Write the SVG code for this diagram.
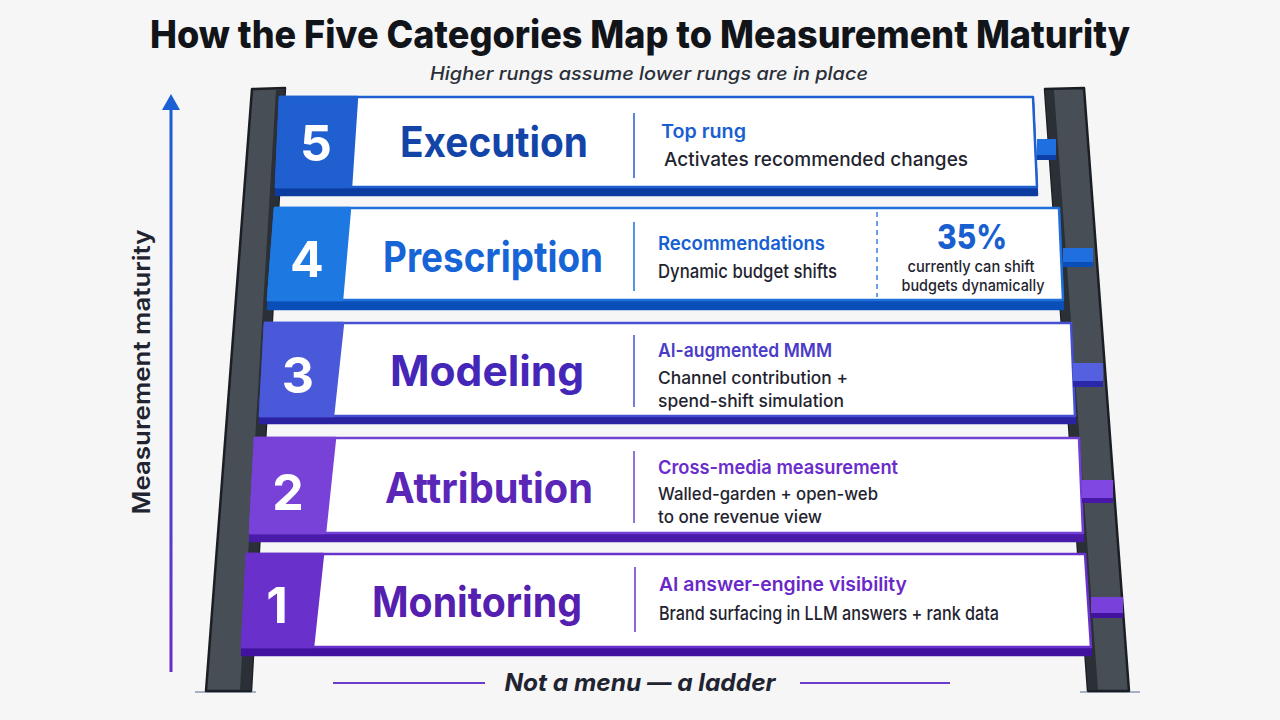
<svg xmlns="http://www.w3.org/2000/svg" width="1280" height="720" viewBox="0 0 1280 720">
<defs>
<linearGradient id="axisGrad" gradientUnits="userSpaceOnUse" x1="171" y1="106" x2="171" y2="672">
<stop offset="0" stop-color="#1a5fd4"/>
<stop offset="1" stop-color="#6a2cc8"/>
</linearGradient>
<style>
text{font-family:Inter,"Noto Sans","Liberation Sans",sans-serif}
.title{font-size:38px;font-weight:800;fill:#111418}
.subtitle{font-size:18px;font-style:italic;font-weight:500;fill:#2a2f38}
.num{font-size:50px;font-weight:700;fill:#ffffff;text-anchor:middle}
.label{font-size:42px;font-weight:700;text-anchor:middle}
.head{font-size:19px;font-weight:600}
.desc{font-size:19px;font-weight:500;fill:#1f2430}
.desc2{font-size:17.5px;font-weight:500;fill:#1f2430}
.rail{fill:#474e56;stroke:#1b1f24;stroke-width:2.5;stroke-linejoin:round}
.railEdge{fill:#2b3036}
.face{fill:#ffffff;stroke-width:2.5;stroke-linejoin:round}
.divider{stroke-width:1.5}
.ground{stroke:#8c9ab2;stroke-width:1.5}
</style>
</defs>
<rect width="1280" height="720" fill="#f6f6f7"/>

<text class="title" x="640" y="48" text-anchor="middle" textLength="980" lengthAdjust="spacingAndGlyphs">How the Five Categories Map to Measurement Maturity</text>
<text class="subtitle" x="649" y="80" text-anchor="middle" textLength="438" lengthAdjust="spacingAndGlyphs">Higher rungs assume lower rungs are in place</text>

<g id="axis">
<rect x="169.5" y="106" width="3" height="566" fill="url(#axisGrad)"/>
<polygon points="171,94 162,110 180,110" fill="#1a5fd4"/>
<text x="0" y="0" transform="translate(150,372) rotate(-90)" text-anchor="middle" font-size="24" font-weight="600" fill="#1f2430" textLength="285" lengthAdjust="spacingAndGlyphs">Measurement maturity</text>
</g>

<g id="rails">
<line class="ground" x1="195" y1="692" x2="256" y2="692"/>
<line class="ground" x1="1080" y1="692" x2="1140" y2="692"/>
<polygon class="rail" points="252,89 285,88 251,691 206,691"/>
<polygon class="railEdge" points="276,90 285,89 251,690 240,690"/>
<polygon class="rail" points="1045,89 1084,88 1129,691 1088,691"/>
<polygon class="railEdge" points="1045,90 1054,90 1098,690 1088,690"/>
</g>

<g id="rung5">
<polygon points="280,103 1033,103 1037,195 276,195" fill="#0c3c9f" stroke="#0c3c9f" stroke-width="2.5" stroke-linejoin="round"/>
<polygon class="face" points="280,97 1033,97 1037,187 276,187" stroke="#1f5fd0"/>
<polygon points="280,97 357,97 351,187 276,187" fill="#1f5fd0" stroke="#1f5fd0" stroke-width="2.5" stroke-linejoin="round"/>
<text class="num" x="316" y="161">5</text>
<text class="label" x="494" y="157" fill="#1344a8" textLength="188" lengthAdjust="spacingAndGlyphs">Execution</text>
<line class="divider" x1="634" y1="113" x2="634" y2="178" stroke="#1f5fd0"/>
<text class="head" x="661" y="138" fill="#1a5fd0" textLength="85" lengthAdjust="spacingAndGlyphs">Top rung</text>
<text class="desc" x="664" y="166" font-size="20" textLength="304" lengthAdjust="spacingAndGlyphs">Activates recommended changes</text>
<rect x="1037" y="139" width="19" height="16" fill="#1f6fe0"/>
<rect x="1037" y="155" width="19" height="5" fill="#0c40a8"/>
</g>

<g id="rung4">
<polygon points="275,214 1059,214 1063,309 268,309" fill="#0a4fb8" stroke="#0a4fb8" stroke-width="2.5" stroke-linejoin="round"/>
<polygon points="275,208 1059,208 1063,300 268,300" fill="#ffffff"/>
<polygon points="877,208 1059,208 1063,300 877,300" fill="#eaf2fd"/>
<polygon class="face" points="275,208 1059,208 1063,300 268,300" fill="none" stroke="#1e6fdc"/>
<polygon points="275,208 350,208 342,300 268,300" fill="#1e78e2" stroke="#1e78e2" stroke-width="2.5" stroke-linejoin="round"/>
<text class="num" x="307" y="277">4</text>
<text class="label" x="493" y="272" fill="#1664d6" textLength="220" lengthAdjust="spacingAndGlyphs">Prescription</text>
<line class="divider" x1="634" y1="222" x2="634" y2="291" stroke="#1e6fdc"/>
<text class="head" x="658" y="250" fill="#1660d4" textLength="167" lengthAdjust="spacingAndGlyphs">Recommendations</text>
<text class="desc" x="658" y="278" textLength="179" lengthAdjust="spacingAndGlyphs">Dynamic budget shifts</text>
<line x1="877" y1="212" x2="877" y2="297" stroke="#3a7fe0" stroke-width="1.5" stroke-dasharray="5 4"/>
<text x="972" y="249" text-anchor="middle" font-size="34" font-weight="800" fill="#1a5fd0" textLength="70" lengthAdjust="spacingAndGlyphs">35%</text>
<text x="971" y="272" text-anchor="middle" font-size="16" font-weight="500" fill="#1f2430" textLength="127" lengthAdjust="spacingAndGlyphs">currently can shift</text>
<text x="973" y="291" text-anchor="middle" font-size="16" font-weight="500" fill="#1f2430" textLength="143" lengthAdjust="spacingAndGlyphs">budgets dynamically</text>
<rect x="1063" y="248" width="30" height="14" fill="#1f6fe0"/>
<rect x="1063" y="262" width="30" height="5" fill="#0a4fb8"/>
</g>

<g id="rung3">
<polygon points="265,329 1071,329 1075,423 260,423" fill="#2a22a0" stroke="#2a22a0" stroke-width="2.5" stroke-linejoin="round"/>
<polygon class="face" points="265,323 1071,323 1075,416 260,416" stroke="#4650d2"/>
<polygon points="265,323 343,323 333,416 260,416" fill="#4a58da" stroke="#4a58da" stroke-width="2.5" stroke-linejoin="round"/>
<text class="num" x="298" y="393">3</text>
<text class="label" x="487" y="386" fill="#4426b8" textLength="194" lengthAdjust="spacingAndGlyphs">Modeling</text>
<line class="divider" x1="634" y1="335" x2="634" y2="407" stroke="#4650d2"/>
<text class="head" x="658" y="357" fill="#4a3cc8" textLength="174" lengthAdjust="spacingAndGlyphs">AI-augmented MMM</text>
<text class="desc2" x="658" y="384" textLength="190" lengthAdjust="spacingAndGlyphs">Channel contribution +</text>
<text class="desc2" x="658" y="407" textLength="186" lengthAdjust="spacingAndGlyphs">spend-shift simulation</text>
<rect x="1073" y="363" width="30" height="18" fill="#5560e0"/>
<rect x="1073" y="381" width="30" height="6" fill="#2a28a8"/>
</g>

<g id="rung2">
<polygon points="255,444 1079,444 1083,541 250,541" fill="#4a1aa8" stroke="#4a1aa8" stroke-width="2.5" stroke-linejoin="round"/>
<polygon class="face" points="255,438 1079,438 1083,533 250,533" stroke="#7240d4"/>
<polygon points="255,438 335,438 325,533 250,533" fill="#7842d8" stroke="#7842d8" stroke-width="2.5" stroke-linejoin="round"/>
<text class="num" x="288" y="510">2</text>
<text class="label" x="489" y="503" fill="#5a26b8" textLength="208" lengthAdjust="spacingAndGlyphs">Attribution</text>
<line class="divider" x1="634" y1="451" x2="634" y2="523" stroke="#7240d4"/>
<text class="head" x="658" y="474" fill="#6a2ccc" textLength="240" lengthAdjust="spacingAndGlyphs">Cross-media measurement</text>
<text class="desc2" x="658" y="500" textLength="220" lengthAdjust="spacingAndGlyphs">Walled-garden + open-web</text>
<text class="desc2" x="658" y="523" textLength="164" lengthAdjust="spacingAndGlyphs">to one revenue view</text>
<rect x="1082" y="480" width="31" height="18" fill="#8048e0"/>
<rect x="1082" y="498" width="31" height="5" fill="#4a18a8"/>
</g>

<g id="rung1">
<polygon points="247,560 1085,560 1091,655 242,655" fill="#40129e" stroke="#40129e" stroke-width="2.5" stroke-linejoin="round"/>
<polygon class="face" points="247,554 1085,554 1091,647 242,647" stroke="#6a32cc"/>
<polygon points="247,554 323,554 313,647 242,647" fill="#6a30cc" stroke="#6a30cc" stroke-width="2.5" stroke-linejoin="round"/>
<text class="num" x="277" y="623">1</text>
<text class="label" x="477" y="617" fill="#5520b0" textLength="210" lengthAdjust="spacingAndGlyphs">Monitoring</text>
<line class="divider" x1="635" y1="567" x2="635" y2="632" stroke="#6a32cc"/>
<text class="head" x="659" y="591" fill="#6a28c8" textLength="248" lengthAdjust="spacingAndGlyphs">AI answer-engine visibility</text>
<text class="desc" x="659" y="620" textLength="340" lengthAdjust="spacingAndGlyphs">Brand surfacing in LLM answers + rank data</text>
<rect x="1091" y="597" width="32" height="16" fill="#7a40dc"/>
<rect x="1091" y="613" width="32" height="5" fill="#40129e"/>
</g>

<g id="footer">
<line x1="333" y1="683" x2="485" y2="683" stroke="#6a3cc8" stroke-width="2"/>
<line x1="800" y1="683" x2="950" y2="683" stroke="#6a3cc8" stroke-width="2"/>
<text x="640" y="691" text-anchor="middle" font-size="24" font-style="italic" font-weight="700" fill="#1f2430" textLength="271" lengthAdjust="spacingAndGlyphs">Not a menu — a ladder</text>
</g>
</svg>
